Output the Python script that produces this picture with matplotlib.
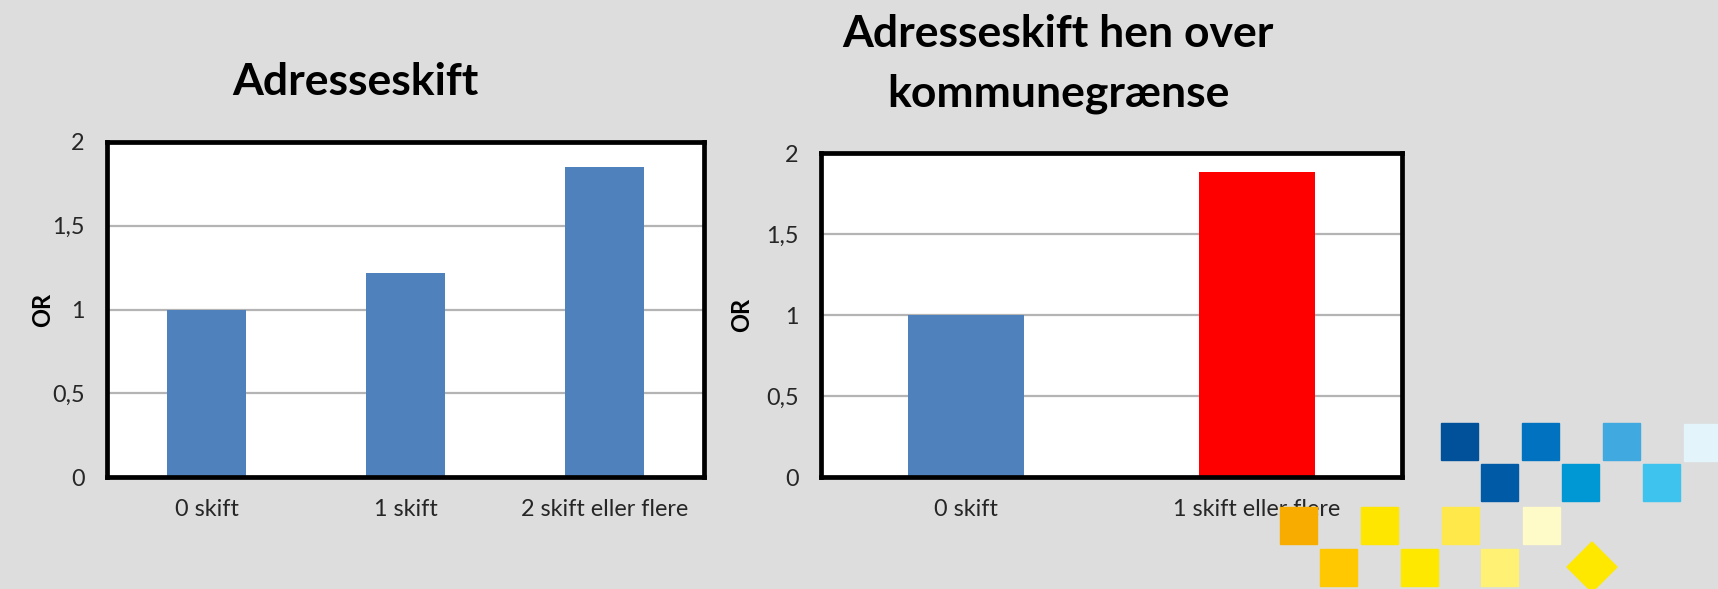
import matplotlib
matplotlib.use("Agg")
import matplotlib.pyplot as plt
from matplotlib.patches import Rectangle, Polygon

plt.rcParams['font.family'] = ['Lato', 'DejaVu Sans']

# data
left_cats = ['0 skift', '1 skift', '2 skift eller flere']
left_vals = [1.0, 1.22, 1.85]
right_cats = ['0 skift', '1 skift eller flere']
right_vals = [1.0, 1.88]
right_colors = ['#4f81bd', '#ff0000']
y_ticks = [0, 0.5, 1, 1.5, 2]
y_ticklabels = ['0', '0,5', '1', '1,5', '2']

W, H = 1718, 589
bg = '#dddddd'
fig = plt.figure(figsize=(W / 100, H / 100), dpi=100, facecolor=bg)


def px_box(x0, y0, x1, y1):
    # pixel box (top-left origin) -> figure fraction rect
    return [x0 / W, 1 - y1 / H, (x1 - x0) / W, (y1 - y0) / H]


def style_ax(ax, ncat, label_x):
    ax.set_facecolor('white')
    ax.set_ylim(0, 2)
    ax.set_xlim(-0.5, ncat - 0.5)
    ax.set_yticks(y_ticks)
    ax.set_yticklabels(y_ticklabels)
    ax.yaxis.grid(True, color='#b4b4b4', lw=1.6)
    ax.set_axisbelow(True)
    ax.tick_params(length=0, labelsize=16.8, colors='#262626', pad=16)
    for s in ax.spines.values():
        s.set_color('black')
        s.set_linewidth(3.4)
    ax.set_ylabel('OR', fontsize=17, fontweight='bold', color='black')
    ax.yaxis.set_label_coords(label_x, 0.5)


# left chart
ax1 = fig.add_axes(px_box(107, 142, 704, 477))
ax1.bar(range(len(left_cats)), left_vals, width=0.4, color='#4f81bd')
ax1.set_xticks(range(len(left_cats)))
ax1.set_xticklabels(left_cats)
style_ax(ax1, len(left_cats), -0.088)

# right chart
ax2 = fig.add_axes(px_box(821, 153, 1402, 477))
ax2.bar(range(len(right_cats)), right_vals, width=0.4, color=right_colors)
ax2.set_xticks(range(len(right_cats)))
ax2.set_xticklabels(right_cats)
style_ax(ax2, len(right_cats), -0.116)

# titles
fig.text(355 / W, 1 - 82 / H, 'Adresseskift', ha='center', va='center',
         fontsize=32, fontweight='bold')
fig.text(1058 / W, 1 - 64 / H, 'Adresseskift hen over\nkommunegrænse',
         ha='center', va='center', fontsize=32, fontweight='bold',
         linespacing=1.6)

# decorative squares, bottom right
squares = [
    (1441, 423, '#00509a'), (1522, 423, '#0072c0'), (1603, 423, '#3fa9e0'),
    (1684, 424, '#e4f4fb'),
    (1481, 464, '#005aa6'), (1562, 464, '#0098d4'), (1643, 464, '#3ec3ee'),
    (1280, 507, '#f9ac00'), (1361, 507, '#ffe600'), (1442, 507, '#ffe94a'),
    (1523, 507, '#fffbc9'),
    (1320, 549, '#ffc800'), (1401, 549, '#ffe800'), (1481, 549, '#fff173'),
]
for x, y, c in squares:
    fig.patches.append(Rectangle((x / W, 1 - (y + 37) / H), 37 / W, 37 / H,
                                 transform=fig.transFigure, color=c,
                                 zorder=5))
cx, cy, r = 1592, 567, 25
diamond = [((cx - r) / W, 1 - cy / H), (cx / W, 1 - (cy - r) / H),
           ((cx + r) / W, 1 - cy / H), (cx / W, 1 - (cy + r) / H)]
fig.patches.append(Polygon(diamond, closed=True, transform=fig.transFigure,
                           color='#ffe800', zorder=5))

fig.savefig('out.png', dpi=100, facecolor=bg)
